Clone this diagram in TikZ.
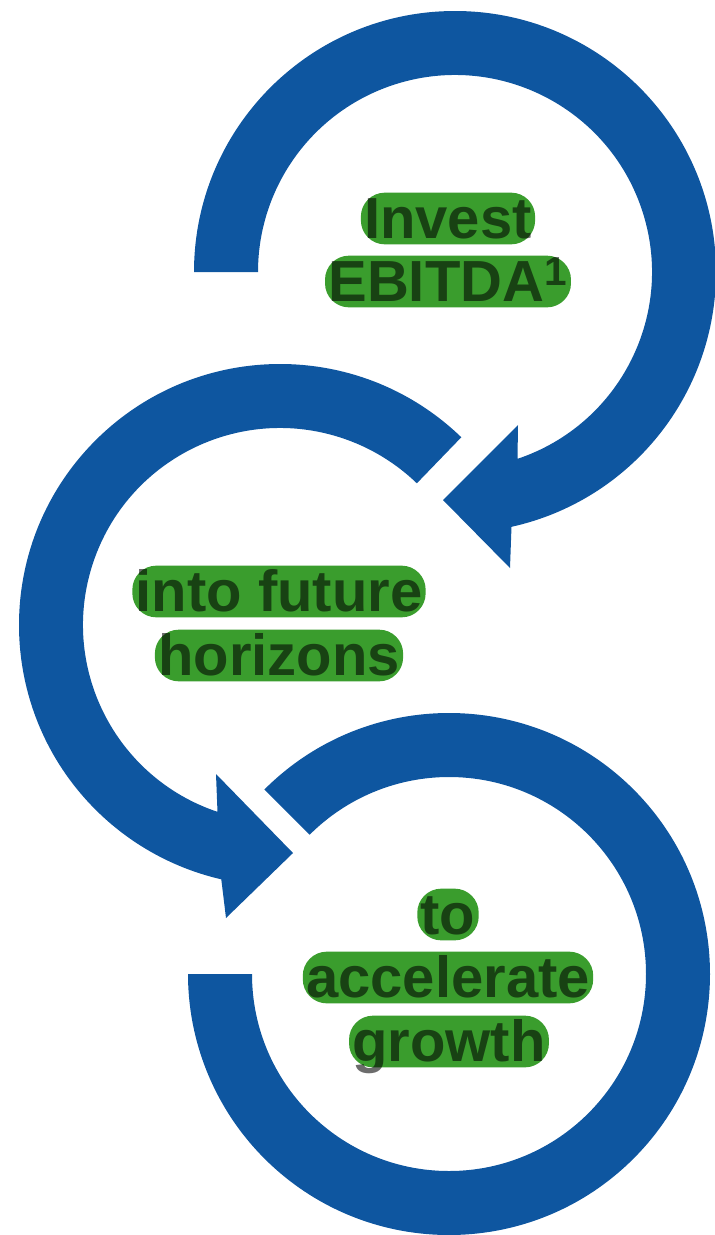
\documentclass[tikz,border=0pt]{standalone}
\usepackage{fontspec}
\setmainfont{Liberation Sans}
\usetikzlibrary{calc}
\definecolor{ringblue}{RGB}{14,86,160}
\definecolor{hlgreen}{RGB}{58,157,45}
\definecolor{txtgray}{RGB}{108,108,108}
\tikzset{
    ring/.style={fill=ringblue},
    lbl/.style={font=\fontsize{33}{39}\selectfont\bfseries, text=txtgray,
        text height=0.8cm, text depth=0pt, inner xsep=0.06cm, inner ysep=0.11cm},
    hlbox/.style={fill=hlgreen, rounded corners=0.48cm, blend mode=multiply}
}

\begin{document}
\begin{tikzpicture}[x=0.02cm,y=-0.02cm]
    \useasboundingbox (0,0) rectangle (714,1235);
    \coordinate (c1) at (455,272);
    \coordinate (c2) at (280,625);
    \coordinate (c3) at (449,974);
    % top arrow
    \fill [ring] (c1) ++(180:261) arc [start angle=180, end angle=437.5, radius=261]
        -- (510,568) -- (443,500) -- (518,425)
        -- ($(c1)+(431.5:197)$) arc [start angle=431.5, end angle=180, radius=197] -- cycle;
    % middle arrow
    \fill [ring] (c2) ++(-46:261) arc [start angle=-46, end angle=-257, radius=261]
        -- (226,918) -- (293,853) -- (216,774)
        -- ($(c2)+(-251.5:197)$) arc [start angle=-251.5, end angle=-46, radius=197] -- cycle;
    % bottom arrow
    \fill [ring] (c3) ++(225:261) arc [start angle=225, end angle=540, radius=261]
        -- ++(64,0) arc [start angle=540, end angle=225, radius=197] -- cycle;

    \node [lbl] (invest) at (448,218.5) {Invest};
    \node [lbl] (ebitda) at (448,281.5) {EBITDA\textsuperscript{1}};
    \node [lbl] (into) at (279,591.5) {into future};
    \node [lbl] (horizons) at (279,655.5) {horizons};
    \node [lbl] (to) at (448,914.5) {to};
    \node [lbl] (accel) at (448,977.5) {accelerate};
    \node [lbl] (growth) at (449,1041.5) {growth};

    \fill [hlbox] (invest.south west) rectangle (invest.north east);
    \fill [hlbox] (ebitda.south west) rectangle (ebitda.north east);
    \fill [hlbox] (into.south west) rectangle (into.north east);
    \fill [hlbox] (horizons.south west) rectangle (horizons.north east);
    \fill [hlbox] (to.south west) rectangle (to.north east);
    \fill [hlbox] (accel.south west) rectangle (accel.north east);
    \fill [hlbox] (growth.south west) rectangle (growth.north east);
\end{tikzpicture}
\end{document}
